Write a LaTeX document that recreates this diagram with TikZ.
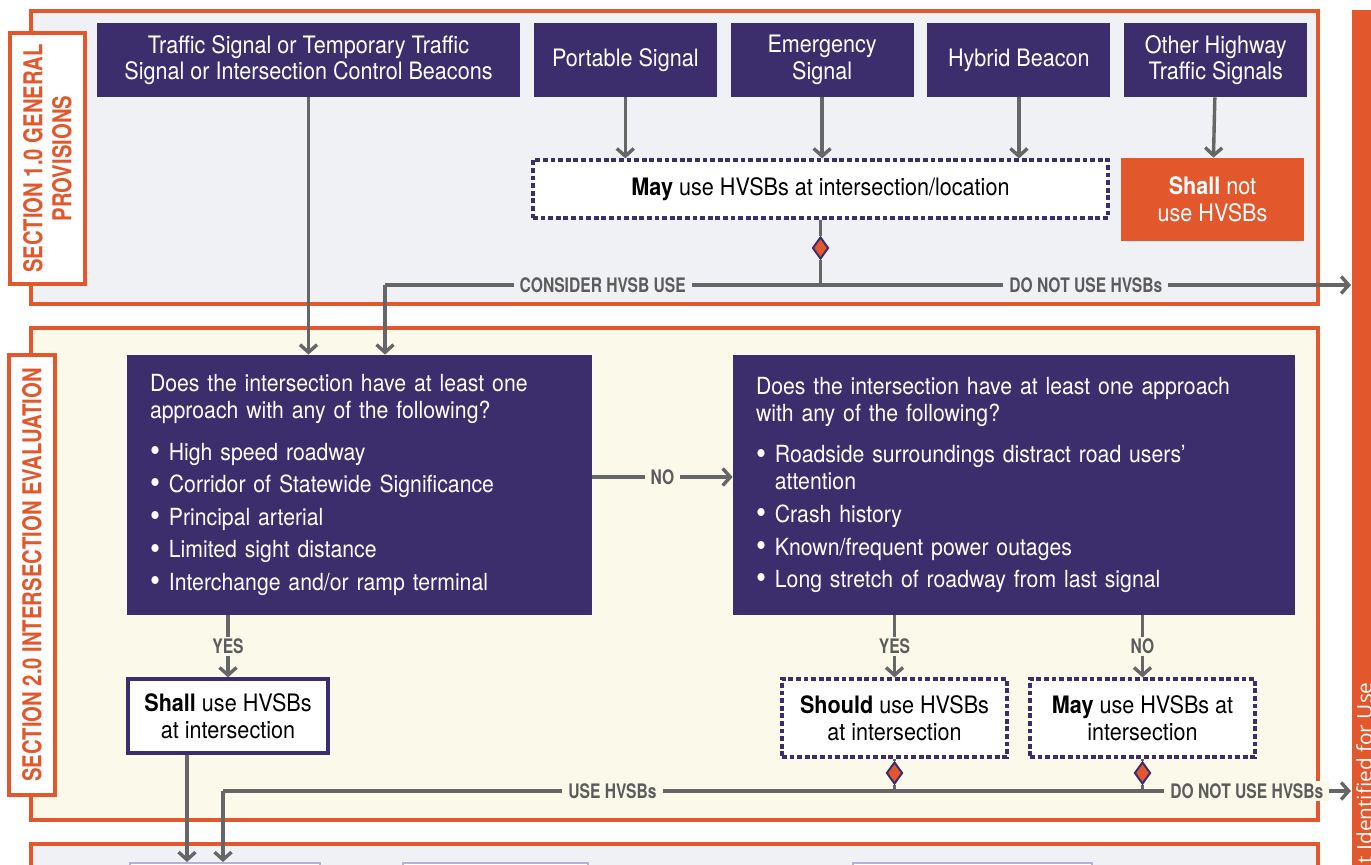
\documentclass[tikz,border=0pt]{standalone}
\usepackage{fontspec}
\setmainfont{TeX Gyre Heros}[FakeStretch=0.9]
\newfontfamily\tagfont{TeX Gyre Heros}[FakeStretch=0.78]
\newfontfamily\barfont{Open Sans}
\usetikzlibrary{arrows.meta,positioning,shapes.geometric}

\definecolor{hvpurple}{HTML}{3C2E6C}
\definecolor{hvorange}{HTML}{E3572C}
\definecolor{hvgray}{HTML}{666666}
\definecolor{secgray}{HTML}{F0F1F4}
\definecolor{seccream}{HTML}{FBF9EA}
\definecolor{lavender}{HTML}{B9B0DA}
\definecolor{lbltext}{HTML}{5C5C5C}

\newcommand{\boxfont}{\fontsize{12}{13.3}\selectfont}
\newcommand{\qfont}{\fontsize{11.8}{13.5}\selectfont\setlength{\parskip}{2.8pt}}
\newcommand{\bul}[1]{\par\noindent\hangindent=0.8em\hangafter=1\makebox[0.8em][l]{\raisebox{-0.1ex}{\scalebox{1.35}{\textbullet}}}#1}

\begin{document}
\begin{tikzpicture}[x=0.5pt,y=-0.5pt,>={Straight Barb[length=3.8pt,width=8.5pt]},
  flow/.style={draw=hvgray,line width=1.7pt},
  frame/.style={draw=hvorange,line width=2pt},
  seclabel/.style={draw=hvorange,line width=2pt,fill=white,rotate=90,align=center,
    text=hvorange,inner sep=0pt,font=\tagfont\bfseries\fontsize{13}{14.5}\selectfont},
  sigbox/.style={rectangle,fill=hvpurple,text=white,minimum width=91.5pt,
    minimum height=37pt,align=center,inner sep=2pt,font=\boxfont},
  qbox/.style={rectangle,fill=hvpurple,text=white,align=left,inner xsep=11.5pt,
    minimum height=130pt,font=\qfont},
  maybox/.style={rectangle,draw=hvpurple,line width=1.6pt,dash pattern=on 2.4pt off 1.4pt,
    fill=white,align=center,inner sep=2pt,font=\boxfont},
  shallbox/.style={rectangle,draw=hvpurple,line width=1.6pt,fill=white,align=center,
    inner sep=2pt,font=\boxfont},
  nobox/.style={rectangle,fill=hvorange,text=white,align=center,inner sep=2pt,font=\boxfont},
  flag/.style={diamond,fill=hvorange,draw=hvpurple,line width=1pt,minimum width=8pt,
    minimum height=11pt,inner sep=0pt},
  lbl/.style={fill=#1,text=lbltext,inner xsep=3pt,inner ysep=1pt,
    font=\tagfont\bfseries\fontsize{10}{10}\selectfont},
  lbl/.default=secgray,
  s3box/.style={rectangle,draw=lavender,line width=1pt,fill=white,minimum height=40pt,anchor=north}]

\useasboundingbox (0,0) rectangle (1371,865);
\clip (0,0) rectangle (1371,865);

% section frames and side bar
\draw[frame,fill=secgray] (31,11) rectangle (1318,304);
\draw[frame,fill=seccream] (31,328) rectangle (1318,820);
\draw[frame,fill=secgray] (31,844) rectangle (1318,950);
\fill[hvorange] (1352,10) rectangle (1390,900);
\node[text=white,font=\barfont\fontsize{10.4}{12}\selectfont,rotate=90,anchor=base east,inner sep=0pt]
  (bartext) at (1372,682) {t Identified for Use};

\node[seclabel,minimum width=125.5pt,minimum height=37.5pt] (tag1) at (47.5,158.5) {SECTION 1.0 GENERAL\\PROVISIONS};
\node[seclabel,minimum width=220pt,minimum height=23pt] (tag2) at (32,575) {SECTION 2.0 INTERSECTION EVALUATION};

% section 1
\node[sigbox,minimum width=211.5pt] (trafsig) at (308.5,60) {Traffic Signal or Temporary Traffic\\Signal or Intersection Control Beacons};
\node[sigbox] (portable) [right=6.5pt of trafsig] {Portable Signal};
\node[sigbox] (emerg) [right=6.5pt of portable] {Emergency\\Signal};
\node[sigbox] (hybrid) [right=6.5pt of emerg] {Hybrid Beacon};
\node[sigbox] (other) [right=6.5pt of hybrid] {Other Highway\\Traffic Signals};

\node[maybox,minimum width=287.5pt,minimum height=29pt] (may1) at (820.5,189) {\textbf{May} use HVSBs at intersection/location};
\node[nobox,minimum width=91.5pt,minimum height=41.5pt] (shallnot) at (1212.5,199.5) {\textbf{Shall} not\\use HVSBs};
\node[flag] (dia1) at (820.5,248) {};

\coordinate (turn1) at (385,285);
\coordinate (exit1) at (1351,285);

\draw[flow,->] (portable) -- (portable |- may1.north);
\draw[flow,->] (emerg) -- (emerg |- may1.north);
\draw[flow,->] (hybrid) -- (hybrid |- may1.north);
\draw[flow,->] (other) -- (shallnot);
\draw[flow] (may1.south) -- (dia1.north);
\draw[flow] (dia1.south) -- (dia1 |- turn1);
\draw[flow] (dia1 |- turn1) -- node[lbl]{CONSIDER HVSB USE} (turn1);
\draw[flow,->] (dia1 |- turn1) -- node[lbl]{DO NOT USE HVSBs} (exit1);

% section 2
\node[qbox,text width=209.5pt] (q1) at (359.5,485) {Does the intersection have at least one\\approach with any of the following?\par\vspace{4.5pt}
  \bul{High speed roadway}
  \bul{Corridor of Statewide Significance}
  \bul{Principal arterial}
  \bul{Limited sight distance}
  \bul{Interchange and/or ramp terminal}};
\node[qbox,text width=258pt] (q2) at (1014,485) {Does the intersection have at least one approach\\with any of the following?\par\vspace{4.5pt}
  \bul{Roadside surroundings distract road users'\hfil\break attention}
  \bul{Crash history}
  \bul{Known/frequent power outages}
  \bul{Long stretch of roadway from last signal}};

\draw[flow,->] (trafsig) -- (trafsig |- q1.north);
\draw[flow,->] (turn1) -- (turn1 |- q1.north);
\draw[flow,->] ([yshift=4pt]q1.east) -- node[lbl=seccream]{NO} ([yshift=4pt]q2.west);

\node[shallbox,minimum width=100pt,minimum height=37pt] (shall2) at (228,716) {\textbf{Shall} use HVSBs\\at intersection};
\node[maybox,minimum width=112.5pt,minimum height=39pt] (should2) at (894.5,718) {\textbf{Should} use HVSBs\\at intersection};
\node[maybox,minimum width=112.5pt,minimum height=39pt] (may2) at (1142.5,718) {\textbf{May} use HVSBs at\\intersection};
\node[flag] (dia2) at (894.5,773) {};
\node[flag] (dia3) at (1142.5,773) {};

\draw[flow,->] (q1.south -| shall2) -- node[lbl=seccream]{YES} (shall2.north);
\draw[flow,->] (q2.south -| should2) -- node[lbl=seccream]{YES} (should2.north);
\draw[flow,->] (q2.south -| may2) -- node[lbl=seccream]{NO} (may2.north);

\coordinate (turn2) at (223,791);
\coordinate (exit2) at (1351,791);

\draw[flow] (should2.south) -- (dia2.north);
\draw[flow] (dia2.south) -- (dia2 |- turn2);
\draw[flow] (may2.south) -- (dia3.north);
\draw[flow] (dia3.south) -- (dia3 |- turn2);
\draw[flow] (dia2 |- turn2) -- node[lbl=seccream,pos=0.42]{USE HVSBs} (turn2);
\draw[flow] (dia3 |- turn2) -- (dia2 |- turn2);
\draw[flow,->] (dia3 |- turn2) -- node[lbl=seccream]{DO NOT USE HVSBs} (exit2);

% section 3 (top edge only)
\node[s3box,minimum width=95pt] (s3a) at (225,862) {};
\node[s3box,minimum width=92.5pt] (s3b) at (495.5,862) {};
\node[s3box,minimum width=119.5pt] (s3c) at (972.5,862) {};

\draw[flow,->] ([xshift=-20.5pt]shall2.south) -- ([xshift=-20.5pt]shall2.south |- s3a.north);
\draw[flow,->] (turn2) -- (turn2 |- s3a.north);

\end{tikzpicture}
\end{document}
